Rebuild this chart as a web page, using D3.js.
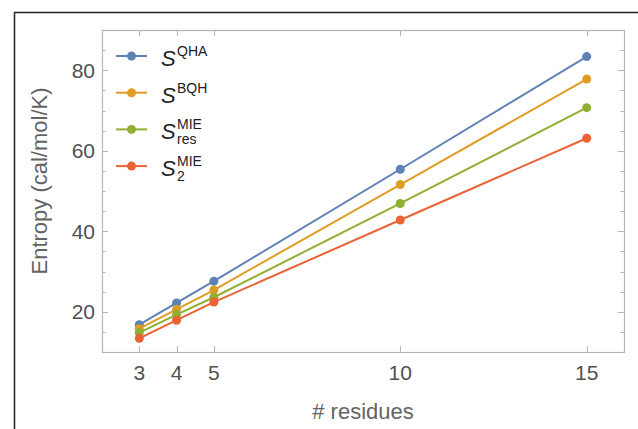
<!DOCTYPE html>
<html>
<head>
<meta charset="utf-8">
<script src="https://cdn.jsdelivr.net/npm/d3@7"></script>
<style>
    body { margin: 0; background: #fff; }
    svg { display: block; font-family: "Liberation Sans", Arial, Helvetica, sans-serif; }
    .tick-label { fill: #505050; font-size: 21px; }
    .axis-title { fill: #646464; font-size: 22px; }
    .legend-text { fill: #222; }
</style>
</head>
<body>
<div id="chart"></div>
<script>
// Entropy vs number of residues
const residues = [3, 4, 5, 10, 15];
const sQHA = [16.8, 22.2, 27.6, 55.4, 83.4];
const sBQH = [15.8, 20.6, 25.4, 51.6, 77.8];
const sMIEres = [14.8, 19.3, 23.6, 46.9, 70.7];
const sMIE2 = [13.4, 17.9, 22.4, 42.8, 63.1];
const xTicks = [3, 4, 5, 10, 15];
const yTicks = [20, 40, 60, 80];
const yMinorTicks = [15, 25, 30, 35, 45, 50, 55, 65, 70, 75, 85];

const seriesList = [
    { values: sQHA, color: '#5e81b5', sup: 'QHA', sub: '' },
    { values: sBQH, color: '#e19c24', sup: 'BQH', sub: '' },
    { values: sMIEres, color: '#8fb032', sup: 'MIE', sub: 'res' },
    { values: sMIE2, color: '#eb6235', sup: 'MIE', sub: '2' }
];

const W = 638, H = 429;
const margin = { top: 30, right: 14, bottom: 77, left: 102 };

const svg = d3.select('#chart').append('svg')
    .attr('width', W)
    .attr('height', H);

// outer frame (top and left edges only are visible)
svg.append('path')
    .attr('d', `M14.5,${H} V12.5 H${W}`)
    .attr('fill', 'none')
    .attr('stroke', '#222')
    .attr('stroke-width', 1.5);

const xScale = d3.scaleLinear()
    .domain([2, 16])
    .range([margin.left, W - margin.right]);

const yScale = d3.scaleLinear()
    .domain([10, 90])
    .range([H - margin.bottom, margin.top]);

const x0 = xScale.range()[0], x1 = xScale.range()[1];
const y0 = yScale.range()[0], y1 = yScale.range()[1];

// plot frame
svg.append('rect')
    .attr('x', x0 + 0.5)
    .attr('y', y1 + 0.5)
    .attr('width', x1 - x0)
    .attr('height', y0 - y1)
    .attr('fill', 'none')
    .attr('stroke', '#b4b4b4')
    .attr('stroke-width', 1.2);

// ticks pointing inward on every side
const tickG = svg.append('g').attr('stroke', '#b4b4b4').attr('stroke-width', 1);
xTicks.forEach(t => {
    const x = Math.round(xScale(t)) + 0.5;
    tickG.append('line').attr('x1', x).attr('x2', x).attr('y1', y0).attr('y2', y0 - 6);
    tickG.append('line').attr('x1', x).attr('x2', x).attr('y1', y1).attr('y2', y1 + 6);
});
yTicks.forEach(t => {
    const y = Math.round(yScale(t)) + 0.5;
    tickG.append('line').attr('x1', x0).attr('x2', x0 + 6).attr('y1', y).attr('y2', y);
    tickG.append('line').attr('x1', x1).attr('x2', x1 - 6).attr('y1', y).attr('y2', y);
});
yMinorTicks.forEach(t => {
    const y = Math.round(yScale(t)) + 0.5;
    tickG.append('line').attr('x1', x0).attr('x2', x0 + 3.5).attr('y1', y).attr('y2', y);
    tickG.append('line').attr('x1', x1).attr('x2', x1 - 3.5).attr('y1', y).attr('y2', y);
});

// tick labels
svg.selectAll('.xlab')
    .data(xTicks)
    .enter()
    .append('text')
    .attr('class', 'tick-label')
    .attr('x', d => xScale(d))
    .attr('y', y0 + 28)
    .attr('text-anchor', 'middle')
    .text(d => d);

svg.selectAll('.ylab')
    .data(yTicks)
    .enter()
    .append('text')
    .attr('class', 'tick-label')
    .attr('x', x0 - 7)
    .attr('y', d => yScale(d) + 7.5)
    .attr('text-anchor', 'end')
    .text(d => d);

// axis titles
svg.append('text')
    .attr('class', 'axis-title')
    .attr('x', (x0 + x1) / 2)
    .attr('y', 419)
    .attr('text-anchor', 'middle')
    .text('# residues');

svg.append('text')
    .attr('class', 'axis-title')
    .attr('transform', 'translate(47, 181) rotate(-90)')
    .attr('text-anchor', 'middle')
    .text('Entropy (cal/mol/K)');

// lines and points
const line = d3.line()
    .x((d, i) => xScale(residues[i]))
    .y(d => yScale(d));

seriesList.forEach(s => {
    svg.append('path')
        .datum(s.values)
        .attr('d', line)
        .attr('fill', 'none')
        .attr('stroke', s.color)
        .attr('stroke-width', 2);

    svg.selectAll(null)
        .data(s.values)
        .enter()
        .append('circle')
        .attr('cx', (d, i) => xScale(residues[i]))
        .attr('cy', d => yScale(d))
        .attr('r', 4.5)
        .attr('fill', s.color);
});

// legend
const legend = svg.append('g').attr('transform', 'translate(116, 56)');
seriesList.forEach((s, i) => {
    const g = legend.append('g').attr('transform', `translate(0, ${i * 36.7})`);
    g.append('line')
        .attr('x1', 0).attr('x2', 31)
        .attr('stroke', s.color).attr('stroke-width', 2);
    g.append('circle').attr('cx', 15.5).attr('r', 4.5).attr('fill', s.color);
    g.append('text')
        .attr('class', 'legend-text')
        .attr('x', 45).attr('y', 10)
        .style('font-size', '22px')
        .style('font-style', 'italic')
        .text('S');
    g.append('text')
        .attr('class', 'legend-text')
        .attr('x', 61).attr('y', 0)
        .style('font-size', '14px')
        .text(s.sup);
    if (s.sub) {
        g.append('text')
            .attr('class', 'legend-text')
            .attr('x', 61).attr('y', 15)
            .style('font-size', '14px')
            .text(s.sub);
    }
});
</script>
</body>
</html>
